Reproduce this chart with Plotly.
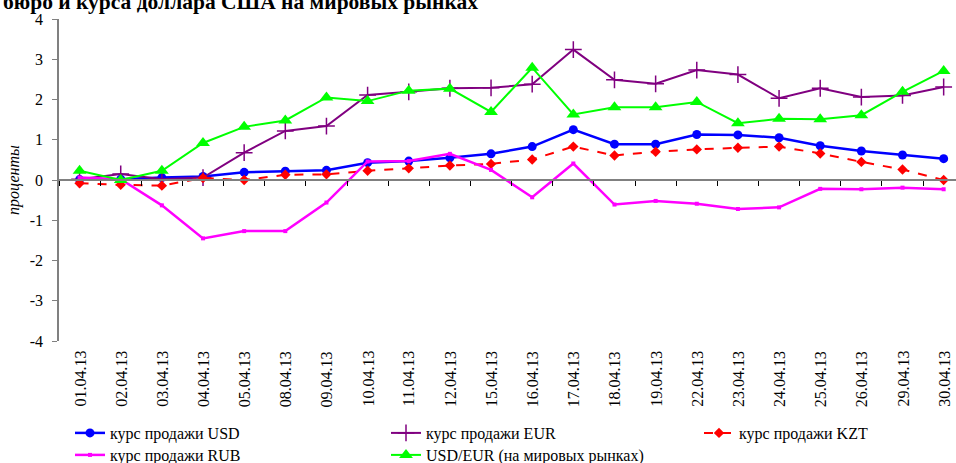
import plotly.graph_objects as go

dates = ["01.04.13", "02.04.13", "03.04.13", "04.04.13", "05.04.13", "08.04.13",
         "09.04.13", "10.04.13", "11.04.13", "12.04.13", "15.04.13", "16.04.13",
         "17.04.13", "18.04.13", "19.04.13", "22.04.13", "23.04.13", "24.04.13",
         "25.04.13", "26.04.13", "29.04.13", "30.04.13"]

usd = [0.01, 0.02, 0.06, 0.09, 0.19, 0.22, 0.24, 0.43, 0.47, 0.55, 0.65, 0.83,
       1.25, 0.89, 0.89, 1.13, 1.12, 1.05, 0.85, 0.72, 0.62, 0.53]
eur = [0.02, 0.15, 0.02, 0.06, 0.68, 1.22, 1.34, 2.11, 2.19, 2.28, 2.29, 2.38,
       3.24, 2.49, 2.39, 2.73, 2.62, 2.03, 2.28, 2.06, 2.10, 2.31]
kzt = [-0.08, -0.12, -0.14, 0.05, 0.00, 0.13, 0.14, 0.23, 0.29, 0.36, 0.40, 0.51,
       0.83, 0.61, 0.70, 0.76, 0.80, 0.83, 0.66, 0.45, 0.26, 0.00]
rub = [0.06, 0.02, -0.63, -1.45, -1.27, -1.27, -0.56, 0.46, 0.47, 0.65, 0.25, -0.43,
       0.41, -0.61, -0.52, -0.59, -0.72, -0.68, -0.22, -0.23, -0.19, -0.23]
usdeur = [0.23, 0.00, 0.23, 0.92, 1.32, 1.48, 2.05, 1.96, 2.22, 2.27, 1.69, 2.79,
          1.63, 1.81, 1.81, 1.94, 1.41, 1.52, 1.51, 1.61, 2.19, 2.71]

names = ["курс продажи USD", "курс продажи EUR", "курс продажи KZT",
         "курс продажи RUB", "USD/EUR (на мировых рынках)"]
yticks = [4, 3, 2, 1, 0, -1, -2, -3, -4]

title_text = "бюро и курса доллара США на мировых рынках"
y_title = "проценты"

SERIF = "Liberation Serif, Times New Roman, serif"
W, H = 956, 463
ML, MR, MT, MB = 59, 0, 19, 122
PW, PH = W - ML - MR, H - MT - MB


def px_x(p):
    return (p - ML) / PW


def px_y(p):
    return (H - MB - p) / PH


fig = go.Figure()
fig.add_trace(go.Scatter(x=dates, y=usd, name=names[0], mode="lines+markers",
                         legend="legend",
                         line=dict(color="#0000FF", width=2.5),
                         marker=dict(symbol="circle", size=9, color="#0000FF")))
fig.add_trace(go.Scatter(x=dates, y=eur, name=names[1], mode="lines+markers",
                         legend="legend2",
                         line=dict(color="#800080", width=2),
                         marker=dict(symbol="cross-thin", size=12,
                                     line=dict(color="#800080", width=1.5))))
fig.add_trace(go.Scatter(x=dates, y=kzt, name=names[2], mode="lines+markers",
                         legend="legend3",
                         line=dict(color="#FF0000", width=2, dash="dash"),
                         marker=dict(symbol="diamond", size=8, color="#FF0000")))
fig.add_trace(go.Scatter(x=dates, y=rub, name=names[3], mode="lines+markers",
                         legend="legend4",
                         line=dict(color="#FF00FF", width=2.5),
                         marker=dict(symbol="square", size=4, color="#FF00FF")))
fig.add_trace(go.Scatter(x=dates, y=usdeur, name=names[4], mode="lines+markers",
                         legend="legend5",
                         line=dict(color="#00FF00", width=2),
                         marker=dict(symbol="triangle-up", size=12, color="#00FF00")))

annotations = []
for d in dates:
    annotations.append(dict(x=d, xref="x", y=px_y(349), yref="paper",
                            text=d, showarrow=False, textangle=-90,
                            xanchor="center", yanchor="top",
                            font=dict(family=SERIF, size=16, color="#000000")))
annotations.append(dict(x=px_x(1), xref="paper", y=px_y(16), yref="paper",
                        text="<b>" + title_text + "</b>", showarrow=False,
                        xanchor="left", yanchor="bottom",
                        font=dict(family=SERIF, size=21.5, color="#000000")))


def leg(xpix, ypix):
    return dict(orientation="v", x=px_x(xpix), y=px_y(ypix), xanchor="left", yanchor="top",
                font=dict(family=SERIF, size=16, color="#000000"),
                bgcolor="rgba(0,0,0,0)",
                itemclick=False, itemdoubleclick=False)


fig.update_layout(
    width=W, height=H,
    margin=dict(l=ML, r=MR, t=MT, b=MB, pad=0, autoexpand=False),
    paper_bgcolor="#FFFFFF", plot_bgcolor="#FFFFFF",
    font=dict(family=SERIF, size=16, color="#000000"),
    showlegend=True,
    legend=leg(70, 416), legend2=leg(386, 416), legend3=leg(699, 416),
    legend4=leg(70, 438), legend5=leg(386, 438),
    annotations=annotations,
    xaxis=dict(type="category", categoryorder="array", categoryarray=dates,
               range=[-0.5, 21.3], anchor="free", position=0.5, automargin=False,
               showline=True, linecolor="#808080", linewidth=2,
               ticks="outside", ticklen=5, tickcolor="#000000", tickwidth=1,
               tickson="boundaries", showticklabels=False, showgrid=False,
               zeroline=False, fixedrange=True),
    yaxis=dict(range=[-4, 4], tickvals=yticks, ticktext=[str(v) for v in yticks],
               automargin=False,
               showline=True, linecolor="#808080", linewidth=1.5,
               ticks="outside", ticklen=5, tickcolor="#808080", tickwidth=1,
               ticklabelstandoff=6,
               showgrid=False, zeroline=False,
               tickfont=dict(family=SERIF, size=16, color="#000000"),
               title=dict(text=y_title, standoff=6,
                          font=dict(family=SERIF, size=16, style="italic",
                                    color="#000000")),
               fixedrange=True),
)

fig.write_html("out.html", config={"displayModeBar": False},
               post_script="document.body.style.margin='0';")
